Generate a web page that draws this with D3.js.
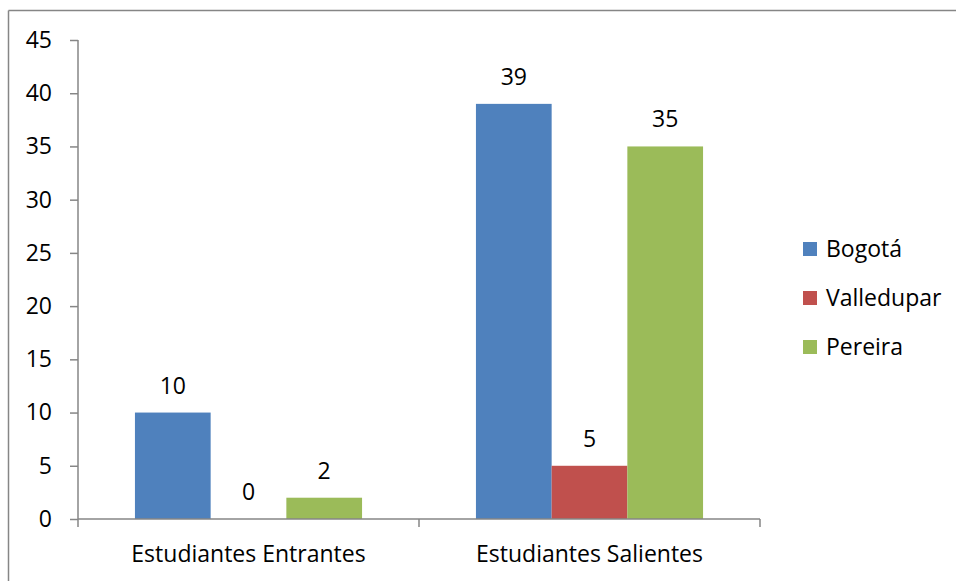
<!DOCTYPE html>
<html>
<head>
<meta charset="utf-8">
<script src="https://cdn.jsdelivr.net/npm/d3@7"></script>
<style>
  html, body { margin: 0; padding: 0; background: #fff; }
  svg { display: block; font-family: "Open Sans", Lato, sans-serif; }
</style>
</head>
<body>
<svg id="chart" width="956" height="581"></svg>
<script>
const categories = ["Estudiantes Entrantes", "Estudiantes Salientes"];
const seriesNames = ["Bogotá", "Valledupar", "Pereira"];
const bogota = [10, 39];
const valledupar = [0, 5];
const pereira = [2, 35];
const seriesColors = ["#4F81BD", "#C0504D", "#9BBB59"];
const yTicks = [0, 5, 10, 15, 20, 25, 30, 35, 40, 45];

const seriesValues = [bogota, valledupar, pereira];
const svg = d3.select("#chart");
const fontSize = 23;
const fontFamily = "'Open Sans', Lato, sans-serif";
const axisColor = "#868686";

// outer frame (top and left edges visible)
svg.append("line").attr("x1", 8.5).attr("x2", 956).attr("y1", 10.5).attr("y2", 10.5)
  .attr("stroke", axisColor).attr("stroke-width", 1.5);
svg.append("line").attr("x1", 8.5).attr("x2", 8.5).attr("y1", 10.5).attr("y2", 581)
  .attr("stroke", axisColor).attr("stroke-width", 1.5);

const plot = { left: 78, right: 760, top: 40, bottom: 519 };

const x0 = d3.scaleBand().domain(categories).range([plot.left, plot.right])
  .paddingInner(0.334).paddingOuter(0.167);
const x1 = d3.scaleBand().domain(seriesNames).range([0, x0.bandwidth()]).padding(0);
const y = d3.scaleLinear().domain([0, 45]).range([plot.bottom, plot.top]);

// bars
const groups = svg.append("g").selectAll("g").data(categories).join("g")
  .attr("transform", d => `translate(${x0(d)},0)`);

groups.each(function(cat, ci) {
  const g = d3.select(this);
  seriesNames.forEach((s, si) => {
    const v = seriesValues[si][ci];
    g.append("rect")
      .attr("x", x1(s)).attr("width", x1.bandwidth())
      .attr("y", y(v)).attr("height", y(0) - y(v))
      .attr("fill", seriesColors[si]);
    g.append("text")
      .attr("x", x1(s) + x1.bandwidth() / 2)
      .attr("y", y(v) - 19)
      .attr("text-anchor", "middle")
      .attr("font-size", fontSize)
      .attr("fill", "#000")
      .text(v);
  });
});

// y axis
const yAxis = svg.append("g").attr("transform", `translate(${plot.left},0)`)
  .call(d3.axisLeft(y).tickValues(yTicks).tickSize(8).tickPadding(18).tickSizeOuter(0));
yAxis.select(".domain").attr("stroke", axisColor).attr("stroke-width", 1.5)
  .attr("d", `M0,${plot.top}V${plot.bottom + 8}`);
yAxis.selectAll(".tick line").attr("stroke", axisColor).attr("stroke-width", 1.5);
yAxis.selectAll(".tick text").attr("font-size", fontSize).attr("fill", "#000")
  .attr("font-family", fontFamily);

// x axis
const xAxisG = svg.append("g").attr("transform", `translate(0,${plot.bottom})`);
xAxisG.append("line").attr("x1", plot.left).attr("x2", plot.right)
  .attr("stroke", axisColor).attr("stroke-width", 1.5);
const boundaries = categories.map(c => x0(c) + x0.bandwidth() + x0.step() * x0.paddingInner() / 2);
boundaries.forEach(bx => {
  xAxisG.append("line").attr("x1", bx).attr("x2", bx).attr("y1", 0).attr("y2", 8)
    .attr("stroke", axisColor).attr("stroke-width", 1.5);
});
categories.forEach(c => {
  xAxisG.append("text")
    .attr("x", x0(c) + x0.bandwidth() / 2)
    .attr("y", 43)
    .attr("text-anchor", "middle")
    .attr("font-size", fontSize)
    .attr("fill", "#000")
    .text(c);
});

// legend
const legend = svg.append("g").attr("transform", "translate(803,249)");
seriesNames.forEach((s, i) => {
  const row = legend.append("g").attr("transform", `translate(0,${i * 49})`);
  row.append("rect").attr("x", 0).attr("y", -7).attr("width", 14).attr("height", 14)
    .attr("fill", seriesColors[i]);
  row.append("text").attr("x", 23).attr("y", 8).attr("font-size", fontSize)
    .attr("fill", "#000").text(s);
});
</script>
</body>
</html>
